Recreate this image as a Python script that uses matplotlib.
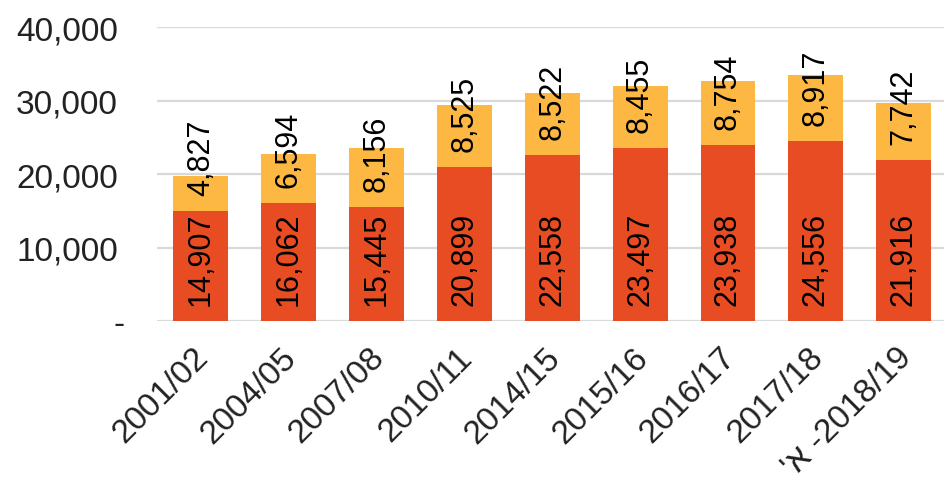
import matplotlib
matplotlib.use("Agg")
import matplotlib.pyplot as plt
import matplotlib.transforms as mtransforms
from matplotlib.ticker import FuncFormatter

plt.rcParams['font.family'] = ['Liberation Sans', 'DejaVu Sans']

periods = ["2001/02", "2004/05", "2007/08", "2010/11", "2014/15",
           "2015/16", "2016/17", "2017/18", "'א -2018/19"]
lower = [14907, 16062, 15445, 20899, 22558, 23497, 23938, 24556, 21916]
upper = [4827, 6594, 8156, 8525, 8522, 8455, 8754, 8917, 7742]

RED = '#E84C22'
YELLOW = '#FDB843'

fig = plt.figure(figsize=(9.45, 4.89), dpi=100)
ax = fig.add_axes([0.166, 0.3415, 0.834, 0.6012])

x = list(range(len(periods)))
w = 0.625
ax.bar(x, lower, width=w, color=RED, zorder=2)
ax.bar(x, upper, width=w, bottom=lower, color=YELLOW, zorder=2)

# labels sit near the base of each segment, rotated
for i in x:
    ax.annotate(f"{lower[i]:,}", (i, 0), xytext=(0, 16), textcoords='offset pixels',
                rotation=90, ha='center', va='bottom', fontsize=22, color='black', zorder=3)
    ax.annotate(f"{upper[i]:,}", (i, lower[i]), xytext=(0, 16), textcoords='offset pixels',
                rotation=90, ha='center', va='bottom', fontsize=22, color='black', zorder=3)

ax.set_xlim(-0.5, 8.47)
ax.set_ylim(0, 40000)
ax.set_yticks([0, 10000, 20000, 30000, 40000])
ax.yaxis.set_major_formatter(FuncFormatter(lambda v, p: '-' if v == 0 else f"{int(v):,}"))
ax.grid(axis='y', color='#D9D9D9', linewidth=1.6, zorder=0)
ax.set_axisbelow(True)

for s in ax.spines.values():
    s.set_visible(False)

ax.tick_params(axis='y', length=0, pad=28, labelsize=24, labelcolor='#222222')
ax.tick_params(axis='x', length=0, pad=6, labelsize=24, labelcolor='#222222')
ax.set_xticks(x)
ax.set_xticklabels(periods, rotation=45, ha='right', va='top', rotation_mode='anchor')

# nudge the slanted labels down/left like the original
shift = mtransforms.ScaledTranslation(-8 / 100, -12 / 100, fig.dpi_scale_trans)
for lab in ax.get_xticklabels():
    lab.set_transform(lab.get_transform() + shift)

zero_shift = mtransforms.ScaledTranslation(7 / 100, 0, fig.dpi_scale_trans)
ylabs = ax.get_yticklabels()
ylabs[0].set_transform(ylabs[0].get_transform() + zero_shift)

fig.savefig("out.png", dpi=100)
